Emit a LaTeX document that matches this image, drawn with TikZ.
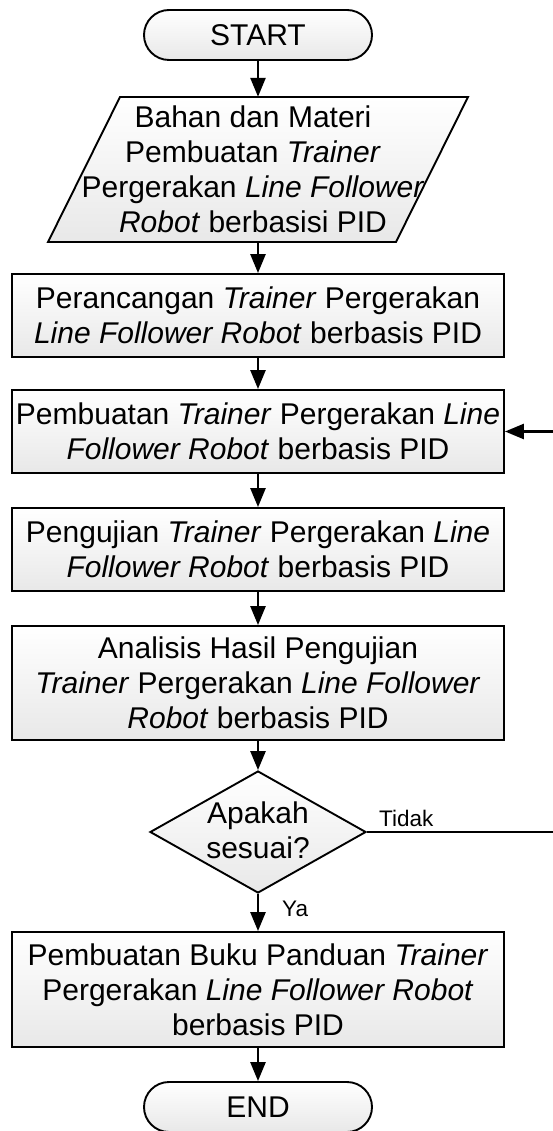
\documentclass[tikz,border=0pt]{standalone}
\usepackage{fontspec}
\setmainfont{Liberation Sans}
\usetikzlibrary{arrows.meta,shapes.geometric}
\begin{document}
\begin{tikzpicture}[x=1pt,y=-1pt,
  every node/.style={font=\fontsize{30}{35}\selectfont, align=center, inner sep=0pt},
  shapefill/.style={draw=black, line width=1.9pt, top color=white, bottom color=black!9},
  procbox/.style={shapefill, rectangle, minimum width=492, minimum height=83},
  termbox/.style={shapefill, rectangle, rounded corners=25pt, minimum width=228, minimum height=50},
  lbl/.style={font=\fontsize{22.5}{26}\selectfont, anchor=base west},
  arr/.style={line width=2.6pt, -{Triangle[length=19pt,width=15pt]}}]
\useasboundingbox (0,0) rectangle (552,1131);

\node[termbox] (start) at (258,35) {START};

\path[shapefill] (120,97) -- (468,97) -- (396,242) -- (48,242) -- cycle;
\node[minimum width=348, minimum height=145] (para) at (258,169.5) {};
\node (paratext) at (253,169.5)
  {Bahan dan Materi\\Pembuatan \textit{Trainer}\\Pergerakan \textit{Line Follower}\\\textit{Robot} berbasisi PID};

\node[procbox] (b1) at (258,315.5)
  {Perancangan \textit{Trainer} Pergerakan\\\textit{Line Follower Robot} berbasis PID};
\node[procbox] (b2) at (258,431.5)
  {Pembuatan \textit{Trainer} Pergerakan \textit{Line}\\\textit{Follower Robot} berbasis PID};
\node[procbox] (b3) at (258,549.5)
  {Pengujian \textit{Trainer} Pergerakan \textit{Line}\\\textit{Follower Robot} berbasis PID};
\node[procbox, minimum height=114] (b4) at (258,683)
  {Analisis Hasil Pengujian\\\textit{Trainer} Pergerakan \textit{Line Follower}\\\textit{Robot} berbasis PID};

\node[shapefill, diamond, aspect=1.77, minimum width=216, minimum height=122] (dec) at (258,832) {};
\node (dectext) at (258,830) {Apakah\\sesuai?};

\node[procbox, minimum height=115] (b5) at (258,989.5)
  {Pembuatan Buku Panduan \textit{Trainer}\\Pergerakan \textit{Line Follower Robot}\\berbasis PID};

\node[termbox] (end) at (258,1107) {END};

\node[lbl] (tidak) at (379,826) {Tidak};
\node[lbl] (ya) at (282,916) {Ya};

\coordinate (fb) at (558,832);

\draw[arr] (start.south) -- (para.north);
\draw[arr] (para.south) -- (b1.north);
\draw[arr] (b1.south) -- (b2.north);
\draw[arr] (b2.south) -- (b3.north);
\draw[arr] (b3.south) -- (b4.north);
\draw[arr] (b4.south) -- (dec.north);
\draw[arr] (dec.south) -- (b5.north);
\draw[arr] (b5.south) -- (end.north);
\draw[arr] (dec.east) -- (fb) |- (b2.east);
\end{tikzpicture}
\end{document}
